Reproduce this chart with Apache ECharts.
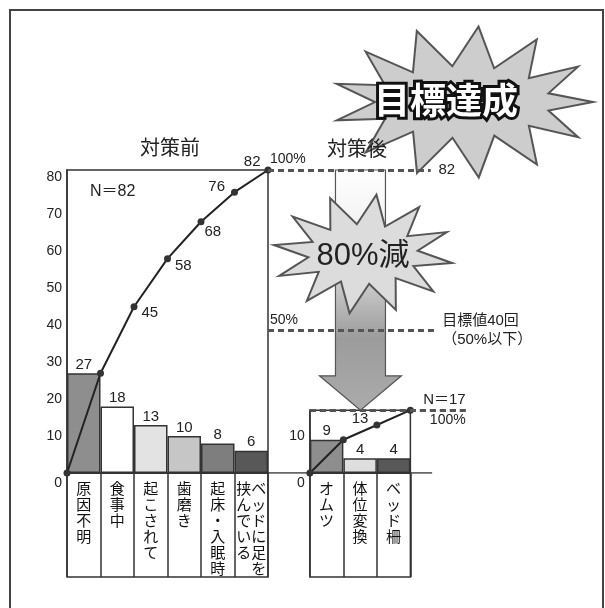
<!DOCTYPE html>
<html>
<head>
<meta charset="utf-8">
<script src="https://cdn.jsdelivr.net/npm/echarts@6/dist/echarts.min.js"></script>
<style>
  html, body { margin: 0; padding: 0; background: #fff; }
  #chart { width: 605px; height: 608px; }
</style>
</head>
<body>
<div id="chart"></div>
<script>
// 対策前
const leftCats = ['原因不明', '食事中', '起こされて', '歯磨き', '起床・入眠時', 'ベッドに足を挟んでいる'];
const leftVals = [27, 18, 13, 10, 8, 6];
const leftCum = [0, 27, 45, 58, 68, 76, 82];
const leftColors = ['#8e8e8e', '#ffffff', '#e3e3e3', '#c6c6c6', '#7e7e7e', '#585858'];
const leftTicks = [0, 10, 20, 30, 40, 50, 60, 70, 80];

// 対策後
const rightCats = ['オムツ', '体位変換', 'ベッド柵'];
const rightVals = [9, 4, 4];
const rightCum = [0, 9, 13, 17];
const rightColors = ['#8e8e8e', '#dedede', '#585858'];
const rightTicks = [0, 10];

const totalBefore = 82;
const totalAfter = 17;
const targetLevel = 38.5;   // 目標値40回 line as drawn

// layout (pixels)
const fontFam = '"Liberation Sans", "Noto Sans CJK JP", sans-serif';
const plotLeft = 67, plotTop = 170, plotH = 303, slot = 33.5;
const baseY = plotTop + plotH;
const pxPerUnit = plotH / totalBefore;
const rightStartSlot = 7.25;
const rightH = totalAfter * pxPerUnit;

function vertical(name) {
  if (name.length <= 6) return name.split('').join('\n');
  // two columns, read right to left
  const right = name.slice(0, 6), left = name.slice(6);
  const rows = [];
  for (let i = 0; i < right.length; i++) rows.push((left[i] || '　') + right[i]);
  return rows.join('\n');
}

function yLabel(ticks) {
  return function (v) {
    if (ticks.indexOf(v) < 0) return '';
    return v === 0 ? '{z|0}' : String(v);
  };
}

function starPoints(cx, cy, rx, ry, irx, iry, n, phase) {
  const pts = [];
  for (let i = 0; i < 2 * n; i++) {
    const a = phase + i * Math.PI / n;
    const o = i % 2 === 0;
    pts.push([cx + Math.cos(a) * (o ? rx : irx), cy + Math.sin(a) * (o ? ry : iry)]);
  }
  return pts;
}

const leftLabelCfg = [
  {show: false},
  {show: false},
  {show: true, position: 'right', distance: 4, offset: [0, 6]},
  {show: true, position: 'right', distance: 4, offset: [0, 7]},
  {show: true, position: 'right', distance: 0, offset: [0, 10]},
  {show: true, position: 'left', distance: 6, offset: [0, -5]},
  {show: true, position: 'left', distance: 4, offset: [0, -8]}
];
const rightLabelCfg = [
  {show: false},
  {show: false},
  {show: true, position: 'left', distance: 5, offset: [0, -6]},
  {show: false}
];

const chart = echarts.init(document.getElementById('chart'));

const axisLbl = {color: '#222', fontSize: 14, fontFamily: fontFam, rich: {z: {padding: [20, 0, 0, 0], fontSize: 14, color: '#222'}}};
const catLbl = {interval: 0, margin: 9, color: '#111', fontSize: 15, lineHeight: 16, verticalAlign: 'top', formatter: vertical};

const option = {
  animation: false,
  backgroundColor: '#fff',
  textStyle: {fontFamily: fontFam},
  grid: [
    {left: plotLeft, top: plotTop, width: slot * 6, height: plotH, show: true, borderColor: '#333', borderWidth: 1.5},
    {left: plotLeft + slot * rightStartSlot, top: baseY - rightH, width: slot * 3, height: rightH, show: true, borderColor: '#333', borderWidth: 1.5},
    {left: plotLeft, top: baseY, width: slot * 6, height: 104, show: true, borderColor: '#333', borderWidth: 1.5},
    {left: plotLeft + slot * rightStartSlot, top: baseY, width: slot * 3, height: 104, show: true, borderColor: '#333', borderWidth: 1.5},
    {left: plotLeft, top: plotTop, width: slot * 12, height: plotH}
  ],
  xAxis: [
    {gridIndex: 0, type: 'category', data: leftCats, axisLine: {lineStyle: {color: '#333', width: 1.5}}, axisTick: {show: false}, axisLabel: catLbl},
    {gridIndex: 0, type: 'category', data: leftCum.map((_, i) => i), boundaryGap: false, show: false},
    {gridIndex: 1, type: 'category', data: rightCats, axisLine: {lineStyle: {color: '#333', width: 1.5}}, axisTick: {show: false}, axisLabel: catLbl},
    {gridIndex: 1, type: 'category', data: rightCum.map((_, i) => i), boundaryGap: false, show: false},
    {gridIndex: 2, type: 'category', data: leftCats, axisLine: {show: false}, axisTick: {show: false}, axisLabel: {show: false},
      splitLine: {show: true, interval: 0, lineStyle: {color: '#333', width: 1.5}}},
    {gridIndex: 3, type: 'category', data: rightCats, axisLine: {show: false}, axisTick: {show: false}, axisLabel: {show: false},
      splitLine: {show: true, interval: 0, lineStyle: {color: '#333', width: 1.5}}},
    {gridIndex: 4, type: 'value', min: 0, max: 12, show: false}
  ],
  yAxis: [
    {gridIndex: 0, type: 'value', min: 0, max: totalBefore, interval: 10, splitLine: {show: false},
      axisLine: {show: true, lineStyle: {color: '#333', width: 1.5}}, axisTick: {show: false},
      axisLabel: Object.assign({margin: 5, formatter: yLabel(leftTicks)}, axisLbl)},
    {gridIndex: 1, type: 'value', min: 0, max: totalAfter, interval: 10, splitLine: {show: false},
      axisLine: {show: true, lineStyle: {color: '#333', width: 1.5}}, axisTick: {show: false},
      axisLabel: Object.assign({margin: 5, formatter: yLabel(rightTicks)}, axisLbl)},
    {gridIndex: 2, type: 'value', min: 0, max: 1, show: false},
    {gridIndex: 3, type: 'value', min: 0, max: 1, show: false},
    {gridIndex: 4, type: 'value', min: 0, max: totalBefore, show: false}
  ],
  series: [
    {
      type: 'bar', xAxisIndex: 0, yAxisIndex: 0, barCategoryGap: '0%',
      data: leftVals.map((v, i) => ({value: v, itemStyle: {color: leftColors[i]}})),
      itemStyle: {borderColor: '#333', borderWidth: 1.5},
      label: {show: true, position: 'top', distance: 1, fontSize: 15, color: '#222'}
    },
    {
      type: 'line', xAxisIndex: 1, yAxisIndex: 0, z: 4,
      data: leftCum.map((v, i) => ({value: v, label: leftLabelCfg[i]})),
      symbol: 'circle', symbolSize: 7, itemStyle: {color: '#333'},
      lineStyle: {color: '#222', width: 2},
      label: {fontSize: 15, color: '#222'}
    },
    {
      type: 'bar', xAxisIndex: 2, yAxisIndex: 1, barCategoryGap: '0%',
      data: rightVals.map((v, i) => ({value: v, itemStyle: {color: rightColors[i]}})),
      itemStyle: {borderColor: '#333', borderWidth: 1.5},
      label: {show: true, position: 'top', distance: 1, fontSize: 15, color: '#222'}
    },
    {
      type: 'line', xAxisIndex: 3, yAxisIndex: 1, z: 4,
      data: rightCum.map((v, i) => ({value: v, label: rightLabelCfg[i]})),
      symbol: 'circle', symbolSize: 7, itemStyle: {color: '#333'},
      lineStyle: {color: '#222', width: 2},
      label: {fontSize: 15, color: '#222'}
    },
    {
      // arrow: 82 -> 17
      type: 'custom', xAxisIndex: 6, yAxisIndex: 4, z: 3, clip: false, silent: true,
      data: [[8.76, totalBefore, 26.3, totalAfter]],
      renderItem: function (params, api) {
        const top = api.coord([api.value(0), api.value(1)]);
        const neck = api.coord([api.value(0), api.value(2)]);
        const tip = api.coord([api.value(0), api.value(3)]);
        const sw = 25, hw = 41, x = top[0];
        return {
          type: 'polygon',
          shape: {points: [[x - sw, top[1]], [x + sw, top[1]], [x + sw, neck[1]], [x + hw, neck[1]],
            [x, tip[1]], [x - hw, neck[1]], [x - sw, neck[1]]]},
          style: {
            fill: new echarts.graphic.LinearGradient(0, 0, 0, 1, [
              {offset: 0, color: '#ffffff'}, {offset: 0.3, color: '#eeeeee'},
              {offset: 0.7, color: '#9c9c9c'}, {offset: 1, color: '#ababab'}]),
            stroke: '#555', lineWidth: 1.2
          }
        };
      }
    },
    {
      type: 'line', xAxisIndex: 6, yAxisIndex: 4, z: 3, silent: true,
      data: [[0, 0], [10.9, 0]], symbol: 'none', lineStyle: {color: '#333', width: 1.5},
      markLine: {
        symbol: 'none', silent: true, animation: false,
        lineStyle: {type: [6, 4], width: 3, color: '#555'},
        label: {fontSize: 14, color: '#222', fontFamily: fontFam},
        data: [
          [{coord: [6, totalBefore], label: {position: 'insideStartTop', formatter: '100%', distance: [2, 4]}}, {coord: [10.85, totalBefore]}],
          [{coord: [6, totalBefore], label: {position: 'end', formatter: String(totalBefore), distance: 8, fontSize: 15}}, {coord: [10.85, totalBefore]}],
          [{coord: [6, targetLevel], label: {position: 'insideStartTop', formatter: '50%', distance: [2, 4]}}, {coord: [11.05, targetLevel]}],
          [{coord: [6, targetLevel], label: {position: 'end', formatter: '目標値40回\n（50%以下）', distance: 5, fontSize: 15, lineHeight: 19, align: 'left'}}, {coord: [11.05, targetLevel]}],
          [{coord: [rightStartSlot, totalAfter], label: {position: 'insideEndTop', formatter: 'N＝' + totalAfter, distance: [0, 3], fontSize: 15}}, {coord: [11.9, totalAfter]}],
          [{coord: [rightStartSlot, totalAfter], label: {position: 'insideEndBottom', formatter: '100%', distance: [0, 3]}}, {coord: [11.9, totalAfter]}]
        ]
      }
    }
  ],
  graphic: [
    {type: 'rect', z: 1, shape: {x: 10, y: 10, width: 593, height: 620}, style: {fill: 'none', stroke: '#444', lineWidth: 2}},
    {type: 'polygon', z: 5, shape: {points: starPoints(463, 102, 130, 76, 88, 36, 13, -Math.PI / 2 + 0.12)},
      style: {fill: '#cdcdcd', stroke: '#555', lineWidth: 2}},
    {type: 'text', z: 6, x: 446, y: 100, style: {text: '目標達成', font: 'bold 36px "Noto Sans CJK JP"', fill: '#fff',
      stroke: '#111', lineWidth: 6, strokeFirst: true, align: 'center', verticalAlign: 'middle'}},
    {type: 'polygon', z: 5, shape: {points: starPoints(363, 254, 90, 60, 55, 30, 12, 0.15)},
      style: {fill: '#dcdcdc', stroke: '#555', lineWidth: 2}},
    {type: 'text', z: 6, x: 363, y: 256, style: {text: '80%減', font: '31px "Liberation Sans", "Noto Sans CJK JP"', fill: '#222',
      align: 'center', verticalAlign: 'middle'}},
    {type: 'text', z: 7, x: 170, y: 147, style: {text: '対策前', font: '20px "Noto Sans CJK JP"', fill: '#222', align: 'center', verticalAlign: 'middle'}},
    {type: 'text', z: 7, x: 357, y: 148, style: {text: '対策後', font: '20px "Noto Sans CJK JP"', fill: '#222', align: 'center', verticalAlign: 'middle'}},
    {type: 'text', z: 7, x: 90, y: 192, style: {text: 'N＝' + totalBefore, font: '16px "Liberation Sans", "Noto Sans CJK JP"', fill: '#222', align: 'left', verticalAlign: 'middle'}}
  ]
};

chart.setOption(option);
</script>
</body>
</html>
